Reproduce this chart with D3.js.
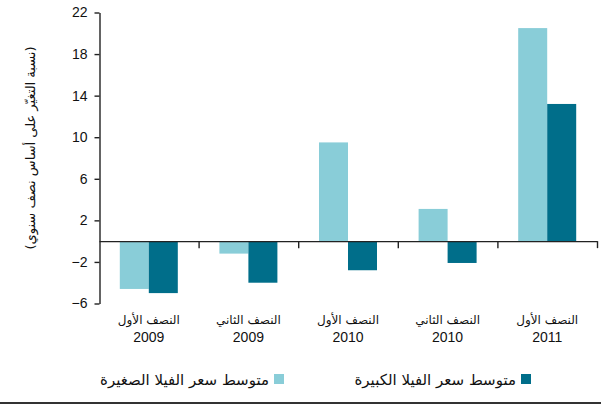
<!DOCTYPE html>
<meta charset="utf-8">
<style>
body { margin: 0; background: #fff; }
svg text { font-family: "Liberation Sans", Arial, "DejaVu Sans", sans-serif; fill: #111; }
.ar { font-family: "DejaVu Sans", sans-serif; }
.axis path, .axis line { stroke: #222; stroke-width: 1.4px; }
</style>
<body>
<script src="https://d3js.org/d3.v7.min.js"></script>
<script>

// data
var periods = ["النصف الأول", "النصف الثاني", "النصف الأول", "النصف الثاني", "النصف الأول"];
var years = ["2009", "2009", "2010", "2010", "2011"];
var smallVilla = [-4.6, -1.2, 9.5, 3.1, 20.5];
var largeVilla = [-5.0, -4.0, -2.8, -2.1, 13.2];
var yTicks = [-6, -2, 2, 6, 10, 14, 18, 22];
var seriesNames = ["متوسط سعر الفيلا الصغيرة", "متوسط سعر الفيلا الكبيرة"];
var colors = ["#89cdd8", "#006e8a"];

var W = 601, H = 407;
var svg = d3.select("body").append("svg").attr("width", W).attr("height", H);

var x = d3.scaleBand().domain(d3.range(years.length)).range([99, 597]).padding(0);
var xEdge = d3.scaleLinear().domain([0, years.length]).range([99, 597]);
var y = d3.scaleLinear().domain([-6, 22]).range([303.5, 12.5]);
var barW = 29;

// bars
var groups = svg.append("g");
[smallVilla, largeVilla].forEach(function(vals, s) {
  groups.selectAll(".bar" + s)
    .data(vals)
    .enter().append("rect")
      .attr("x", function(d, i) { return x(i) + x.bandwidth() / 2 - barW + s * barW; })
      .attr("width", barW)
      .attr("y", function(d) { return y(Math.max(0, d)); })
      .attr("height", function(d) { return Math.abs(y(d) - y(0)); })
      .attr("fill", colors[s]);
});

// y axis
var yAxis = svg.append("g")
  .attr("class", "axis")
  .attr("transform", "translate(99.5,0)")
  .call(d3.axisLeft(y).tickValues(yTicks).tickSize(5).tickSizeOuter(0).tickPadding(7));
yAxis.selectAll("text").style("font-size", "14px");

// zero line with separator ticks
svg.append("g")
  .attr("class", "axis")
  .attr("transform", "translate(0," + y(0) + ")")
  .call(d3.axisBottom(xEdge).tickValues(d3.range(1, years.length + 1)).tickSize(7).tickSizeOuter(0).tickFormat(""));

// category labels
var lab = svg.append("g");
lab.selectAll(".per")
  .data(periods)
  .enter().append("text")
    .attr("class", "ar")
    .attr("x", function(d, i) { return x(i) + x.bandwidth() / 2; })
    .attr("y", 324)
    .attr("text-anchor", "middle")
    .attr("direction", "rtl")
    .style("font-size", "12px")
    .text(function(d) { return d; });
lab.selectAll(".yr")
  .data(years)
  .enter().append("text")
    .attr("x", function(d, i) { return x(i) + x.bandwidth() / 2; })
    .attr("y", 342)
    .attr("text-anchor", "middle")
    .style("font-size", "14px")
    .text(function(d) { return d; });

// y title
svg.append("text")
  .attr("class", "ar")
  .attr("transform", "translate(35,148) rotate(-90)")
  .attr("text-anchor", "middle")
  .attr("direction", "rtl")
  .style("font-size", "13px")
  .text("(نسبة التغيّر على أساس نصف سنوي)");

// legend
var legendX = [274, 521];
var leg = svg.append("g");
[1, 0].forEach(function(s) {
  leg.append("rect")
    .attr("x", legendX[s])
    .attr("y", 374)
    .attr("width", 10)
    .attr("height", 10)
    .attr("fill", colors[s]);
  leg.append("text")
    .attr("class", "ar")
    .attr("x", legendX[s] - 5)
    .attr("y", 385)
    .attr("text-anchor", "start")
    .attr("direction", "rtl")
    .style("font-size", "15px")
    .text(seriesNames[s]);
});

// bottom rule
svg.append("line")
  .attr("x1", 0).attr("x2", W)
  .attr("y1", 403).attr("y2", 403)
  .attr("stroke", "#333")
  .attr("stroke-width", 2);

</script>
